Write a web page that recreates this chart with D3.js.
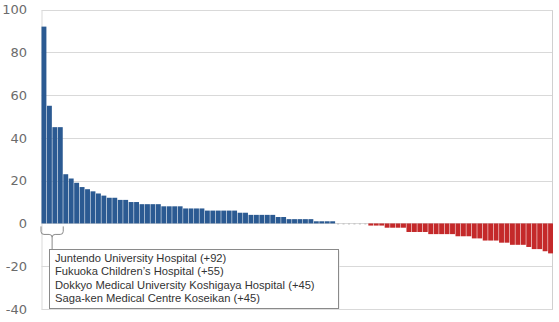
<!DOCTYPE html>
<html>
<head>
<meta charset="utf-8">
<script src="https://cdn.jsdelivr.net/npm/d3@7"></script>
<style>
  html, body { margin: 0; padding: 0; background: #fff; }
  svg { display: block; }
</style>
</head>
<body>
<svg id="chart"></svg>
<script>
// Change in ranking per hospital, sorted
const changes = [
  92, 55, 45, 45, 23, 21, 19, 17, 16, 15, 14, 13, 12, 12, 11, 11, 10, 10,
  9, 9, 9, 9, 8, 8, 8, 8, 7, 7, 7, 7, 6, 6, 6, 6, 6, 6, 5, 5,
  4, 4, 4, 4, 4, 3, 3, 2, 2, 2, 2, 2, 1, 1, 1, 1,
  0, 0, 0, 0, 0, 0,
  -1, -1, -1, -2, -2, -2, -2, -4, -4, -4, -4, -5, -5, -5, -5, -5,
  -6, -6, -6, -7, -7, -8, -8, -8, -9, -9, -10, -10, -10, -11,
  -12, -12, -13, -14
];
const categories = changes.map((d, i) => i + 1);
const yTicks = [100, 80, 60, 40, 20, 0, -20, -40];
const topNames = [
  "Juntendo University Hospital (+92)",
  "Fukuoka Children\u2019s Hospital (+55)",
  "Dokkyo Medical University Koshigaya Hospital (+45)",
  "Saga-ken Medical Centre Koseikan (+45)"
];

const W = 559, H = 322;
const margin = {top: 9.5, right: 6, bottom: 13, left: 41.5};

const svg = d3.select("#chart")
    .attr("width", W)
    .attr("height", H);

const x = d3.scaleBand()
    .domain(categories)
    .range([margin.left, W - margin.right])
    .paddingInner(0.1)
    .paddingOuter(0);

const y = d3.scaleLinear()
    .domain([-40, 100])
    .range([H - margin.bottom, margin.top]);

// gridlines
svg.append("g")
  .selectAll("line")
  .data(yTicks)
  .join("line")
    .attr("x1", margin.left)
    .attr("x2", W - margin.right)
    .attr("y1", d => Math.round(y(d)) + 0.5)
    .attr("y2", d => Math.round(y(d)) + 0.5)
    .attr("stroke", "#d9d9d9");

// plot frame sides
svg.append("line")
    .attr("x1", margin.left + 0.5).attr("x2", margin.left + 0.5)
    .attr("y1", Math.round(y(100)) + 0.5).attr("y2", Math.round(y(-40)) + 0.5)
    .attr("stroke", "#d9d9d9");
svg.append("line")
    .attr("x1", W - margin.right - 0.5).attr("x2", W - margin.right - 0.5)
    .attr("y1", Math.round(y(100)) + 0.5).attr("y2", Math.round(y(-40)) + 0.5)
    .attr("stroke", "#d0d0d0");

// y axis labels
svg.append("g")
  .selectAll("text")
  .data(yTicks)
  .join("text")
    .attr("x", 27)
    .attr("y", d => y(d))
    .attr("dy", "0.36em")
    .attr("text-anchor", "end")
    .style("font-family", "'DejaVu Sans', Verdana, sans-serif")
    .style("font-size", "13px")
    .style("fill", "#6b6b6b")
    .text(d => d);

// bars
svg.append("g")
  .selectAll("rect")
  .data(changes.map((v, i) => ({cat: categories[i], v})).filter(d => d.v !== 0))
  .join("rect")
    .attr("x", d => x(d.cat))
    .attr("width", x.bandwidth())
    .attr("y", d => y(Math.max(0, d.v)))
    .attr("height", d => Math.abs(y(d.v) - y(0)))
    .attr("fill", d => d.v > 0 ? "#2b5a92" : "#c4292a");

// zero-change marks
svg.append("g")
  .selectAll("line")
  .data(categories.filter((c, i) => changes[i] === 0))
  .join("line")
    .attr("x1", d => x(d) + x.bandwidth() / 2 - 1)
    .attr("x2", d => x(d) + x.bandwidth() / 2 + 1)
    .attr("y1", y(0) + 0.5)
    .attr("y2", y(0) + 0.5)
    .attr("stroke", "#bbbbbb");

// bracket under the four biggest risers
const bx0 = x(categories[0]) - 0.5;
const bx1 = x(categories[3]) + x.bandwidth() + 0.5;
const bm = (bx0 + bx1) / 2;
const by = y(0) + 3;
const boxTop = 249.5, boxLeft = 49.5, boxW = 289, boxH = 59;

svg.append("path")
    .attr("d", `M${bx0},${by} L${bx0},${by + 5} Q${bx0},${by + 8} ${bx0 + 3},${by + 8}
                L${bm - 3},${by + 8} Q${bm},${by + 8} ${bm},${by + 11}
                Q${bm},${by + 8} ${bm + 3},${by + 8}
                L${bx1 - 3},${by + 8} Q${bx1},${by + 8} ${bx1},${by + 5} L${bx1},${by}
                M${bm},${by + 11} L${bm},${boxTop}`)
    .attr("fill", "none")
    .attr("stroke", "#8a8a8a");

// annotation box
svg.append("rect")
    .attr("x", boxLeft + 1)
    .attr("y", boxTop + 1)
    .attr("width", boxW)
    .attr("height", boxH)
    .attr("fill", "#e6e6e6");
svg.append("rect")
    .attr("x", boxLeft)
    .attr("y", boxTop)
    .attr("width", boxW)
    .attr("height", boxH)
    .attr("fill", "#fff")
    .attr("stroke", "#8a8a8a");

svg.append("g")
  .selectAll("text")
  .data(topNames)
  .join("text")
    .attr("x", 55)
    .attr("y", (d, i) => 262 + i * 13.3)
    .style("font-family", "'Liberation Sans', Arial, sans-serif")
    .style("font-size", "11.2px")
    .style("fill", "#333")
    .text(d => d);
</script>
</body>
</html>
